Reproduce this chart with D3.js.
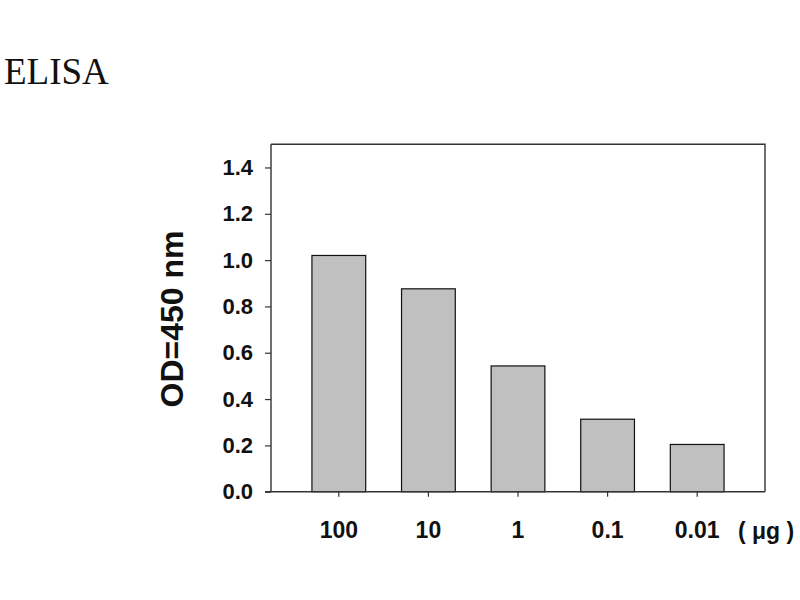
<!DOCTYPE html>
<html>
<head>
<meta charset="utf-8">
<script src="https://cdn.jsdelivr.net/npm/d3@7"></script>
<style>
  html, body { margin: 0; padding: 0; background: #fff; }
  svg { display: block; }
</style>
</head>
<body>
<svg id="chart" width="800" height="600"></svg>
<script>
const categories = ["100", "10", "1", "0.1", "0.01"];
const values = [1.02, 0.876, 0.543, 0.313, 0.204];
const yTicks = [0.0, 0.2, 0.4, 0.6, 0.8, 1.0, 1.2, 1.4];
const title = "ELISA";
const yTitle = "OD=450 nm";
const unitLabel = "( \u03bcg )";

(function () {
const svg = d3.select("#chart");
const pLeft = 271, pRight = 765, pTop = 144.3, pBottom = 491.7;
const sans = "Liberation Sans, Arial, sans-serif";

const x = d3.scaleBand().domain(categories).range([pLeft, pRight])
  .paddingInner(0.4).paddingOuter(0.457);
const y = d3.scaleLinear().domain([0, 1.5]).range([pBottom, pTop]);

// Title
svg.append("text").attr("x", 4).attr("y", 84)
  .attr("font-family", "Liberation Serif, Times New Roman, serif")
  .attr("font-size", 37).attr("fill", "#111").text(title);

// Frame (top and right)
svg.append("path")
  .attr("d", `M${pLeft},${pTop}H${pRight}V${pBottom}`)
  .attr("fill", "none").attr("stroke", "#333").attr("stroke-width", 1.4);

// Bars
svg.append("g").selectAll("rect").data(values).join("rect")
  .attr("x", (d, i) => x(categories[i]))
  .attr("y", d => y(d))
  .attr("width", x.bandwidth())
  .attr("height", d => pBottom - y(d))
  .attr("fill", "#c0c0c0").attr("stroke", "#111").attr("stroke-width", 1.2);

// Y axis
const yAxis = d3.axisLeft(y).tickValues(yTicks).tickSize(6).tickPadding(12)
  .tickFormat(d3.format(".1f"));
const yg = svg.append("g").attr("transform", `translate(${pLeft},0)`).call(yAxis);
yg.select(".domain").attr("stroke", "#333").attr("stroke-width", 1.4)
  .attr("d", `M0,${pBottom}V${pTop}`);
yg.selectAll(".tick line").attr("stroke", "#333").attr("stroke-width", 1.2);
yg.selectAll(".tick text").attr("font-family", sans)
  .attr("font-weight", "bold").attr("font-size", 22).attr("fill", "#111");

// X axis
const xAxis = d3.axisBottom(x).tickSize(5).tickPadding(0);
const xg = svg.append("g").attr("transform", `translate(0,${pBottom})`).call(xAxis);
xg.select(".domain").attr("stroke", "#333").attr("stroke-width", 1.4)
  .attr("d", `M${pLeft - 6},0H${pRight}`);
xg.selectAll(".tick line").attr("stroke", "#333").attr("stroke-width", 1.2);
xg.selectAll(".tick text").attr("font-family", sans)
  .attr("font-weight", "bold").attr("font-size", 23).attr("fill", "#111")
  .attr("dy", null).attr("y", 538.5 - pBottom);

// Unit label
svg.append("text").attr("x", 738).attr("y", 538.5)
  .attr("font-family", sans)
  .attr("font-weight", "bold").attr("font-size", 23).attr("fill", "#111")
  .style("white-space", "pre").text(unitLabel);

// Y title
svg.append("text")
  .attr("transform", `translate(183,319) rotate(-90)`)
  .attr("text-anchor", "middle")
  .attr("font-family", sans)
  .attr("font-weight", "bold").attr("font-size", 32).attr("fill", "#111")
  .text(yTitle);
})();
</script>
</body>
</html>
